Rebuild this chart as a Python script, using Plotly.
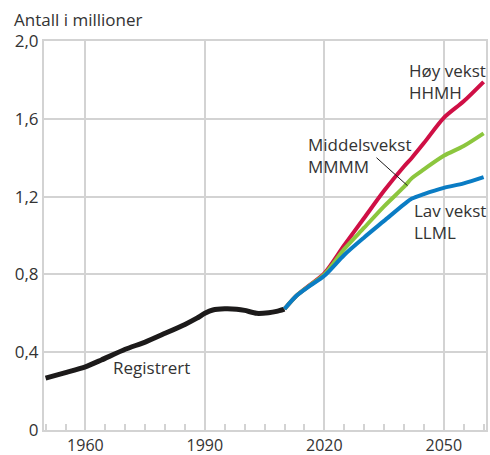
import plotly.graph_objs as go

# Registrert (historical)
reg_years = [1950, 1955, 1960, 1964, 1970, 1975, 1980, 1985, 1988, 1990, 1992, 1995, 1998, 2000, 2003, 2006, 2008, 2010]
reg_values = [0.267, 0.295, 0.325, 0.36, 0.415, 0.452, 0.497, 0.543, 0.575, 0.600, 0.617, 0.623, 0.621, 0.615, 0.600, 0.603, 0.610, 0.622]

# Projections
proj_years = [2010, 2013, 2016, 2020, 2025, 2030, 2035, 2040, 2042, 2045, 2050, 2055, 2060]
high_values = [0.622, 0.69, 0.74, 0.805, 0.95, 1.09, 1.23, 1.355, 1.40, 1.475, 1.605, 1.69, 1.79]
mid_values = [0.622, 0.69, 0.738, 0.80, 0.93, 1.04, 1.15, 1.25, 1.295, 1.34, 1.41, 1.46, 1.525]
low_values = [0.622, 0.69, 0.736, 0.793, 0.90, 0.99, 1.075, 1.16, 1.19, 1.213, 1.245, 1.268, 1.30]

y_ticks = [0, 0.4, 0.8, 1.2, 1.6, 2.0]
y_ticktext = ['0', '0,4', '0,8', '1,2', '1,6', '2,0']
x_ticks = [1960, 1990, 2020, 2050]

FONT = "Open Sans"
GRID = '#d3d3d3'
TXT = '#333333'

fig = go.Figure()

fig.add_trace(go.Scatter(x=reg_years, y=reg_values, mode='lines',
                         line=dict(color='#1c1a1a', width=5, shape='spline', smoothing=0.6)))
fig.add_trace(go.Scatter(x=proj_years, y=high_values, mode='lines',
                         line=dict(color='#cf0f45', width=4, shape='spline', smoothing=0.8)))
fig.add_trace(go.Scatter(x=proj_years, y=mid_values, mode='lines',
                         line=dict(color='#8cc63e', width=4, shape='spline', smoothing=0.8)))
fig.add_trace(go.Scatter(x=proj_years, y=low_values, mode='lines',
                         line=dict(color='#0a7cc4', width=4, shape='spline', smoothing=0.8)))

labels = [
    (2040.7, 1.92, 'Høy vekst<br>HHMH'),
    (2015.4, 1.535, 'Middelsvekst<br>MMMM'),
    (2042.0, 1.20, 'Lav vekst<br>LLML'),
    (1966.3, 0.39, 'Registrert'),
]
for x, y, t in labels:
    fig.add_annotation(x=x, y=y, text=t, showarrow=False, xanchor='left', yanchor='top',
                       align='left', font=dict(family=FONT, size=17, color=TXT))

fig.add_shape(type='line', x0=2033.1, y0=1.40, x1=2040.9, y1=1.256,
              line=dict(color='#1c1a1a', width=1))

fig.add_annotation(x=-0.072, y=1.02, xref='paper', yref='paper', text='Antall i millioner',
                   showarrow=False, xanchor='left', yanchor='bottom',
                   font=dict(family=FONT, size=17, color=TXT))

fig.update_layout(
    showlegend=False,
    width=490,
    height=455,
    margin=dict(l=44, r=4, t=41, b=25, autoexpand=False),
    paper_bgcolor='white',
    plot_bgcolor='white',
    font=dict(family=FONT, size=17, color=TXT),
    xaxis=dict(
        range=[1949.6, 2060.6],
        tickvals=x_ticks,
        tickfont=dict(size=16),
        automargin=False,
        showgrid=True,
        gridcolor=GRID,
        gridwidth=2,
        showline=True,
        linecolor=GRID,
        linewidth=2,
        mirror=True,
        zeroline=False,
        ticks='',
        minor=dict(dtick=5, tick0=1950, ticks='inside', ticklen=6, tickcolor=GRID, tickwidth=2, showgrid=False),
    ),
    yaxis=dict(
        range=[0, 2.0],
        tickvals=y_ticks,
        ticktext=y_ticktext,
        automargin=False,
        showgrid=True,
        gridcolor=GRID,
        gridwidth=2,
        showline=True,
        linecolor=GRID,
        linewidth=2,
        mirror=True,
        zeroline=False,
        ticks='',
    ),
)

# drop the default page margin so the 490x455 figure fills the window exactly
fig.write_html("out.html", config={'displayModeBar': False},
               post_script="document.body.style.margin='0';document.body.style.overflow='hidden';")
